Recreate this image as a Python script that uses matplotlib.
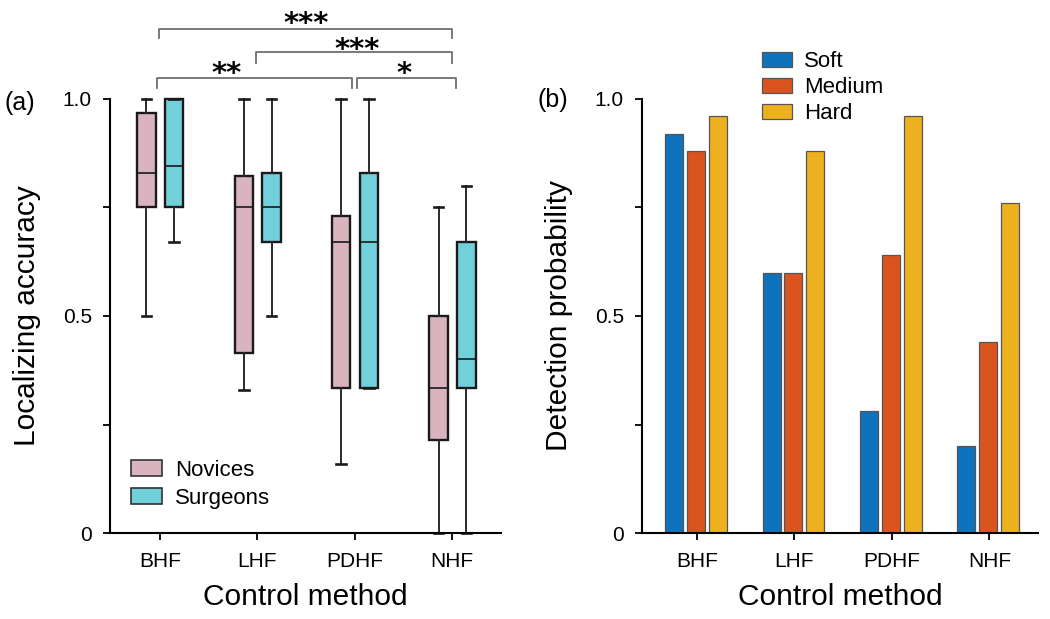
import numpy as np
import matplotlib
matplotlib.use("Agg")
import matplotlib.pyplot as plt
from matplotlib.patches import Patch

plt.rcParams['font.family'] = ['Liberation Sans', 'DejaVu Sans']

methods = ['BHF', 'LHF', 'PDHF', 'NHF']

# (a) localizing accuracy box statistics
nov_low = [0.50, 0.33, 0.16, 0.0]
nov_q1 = [0.75, 0.415, 0.333, 0.214]
nov_med = [0.83, 0.75, 0.67, 0.333]
nov_q3 = [0.967, 0.823, 0.73, 0.50]
nov_high = [1.0, 1.0, 1.0, 0.75]

sur_low = [0.67, 0.50, 0.333, 0.0]
sur_q1 = [0.75, 0.67, 0.333, 0.333]
sur_med = [0.846, 0.75, 0.67, 0.40]
sur_q3 = [1.0, 0.83, 0.83, 0.67]
sur_high = [1.0, 1.0, 1.0, 0.80]

# significance comparisons: (group i, group j, label)
sig_pairs = [(0, 3, '***'), (1, 3, '***'), (0, 2, '**'), (2, 3, '*')]

# (b) detection probability
soft = [0.92, 0.60, 0.28, 0.20]
medium = [0.88, 0.60, 0.64, 0.44]
hard = [0.96, 0.88, 0.96, 0.76]

c_nov = '#d9b4bf'
c_sur = '#72d0da'
c_bars = ['#0f72bd', '#d9541f', '#edb120']

fig = plt.figure(figsize=(10.5, 6.19), dpi=100)
ax1 = fig.add_axes([0.1048, 0.1389, 0.3723, 0.7012])
ax2 = fig.add_axes([0.6114, 0.1389, 0.3772, 0.7012])

x = np.arange(len(methods))


def make_stats(low, q1, med, q3, high):
    return [dict(whislo=a, q1=b, med=c, q3=d, whishi=e, fliers=[])
            for a, b, c, d, e in zip(low, q1, med, q3, high)]


for stats, off, col in [(make_stats(nov_low, nov_q1, nov_med, nov_q3, nov_high), -0.14, c_nov),
                        (make_stats(sur_low, sur_q1, sur_med, sur_q3, sur_high), 0.145, c_sur)]:
    bp = ax1.bxp(stats, positions=x + off, widths=0.19, capwidths=0.1,
                 patch_artist=True, showfliers=False,
                 boxprops=dict(facecolor=col, edgecolor='#1a1a1a', linewidth=1.7),
                 medianprops=dict(color='#1a1a1a', linewidth=1.2),
                 whiskerprops=dict(color='#2a2a2a', linewidth=1.4),
                 capprops=dict(color='#1a1a1a', linewidth=1.9))
    for key in ['boxes', 'medians', 'whiskers', 'caps']:
        for art in bp[key]:
            art.set_clip_on(False)

# significance brackets
levels = {(0, 3): (1.161, 1.140, 1.155), (1, 3): (1.108, 1.082, 1.094),
          (0, 2): (1.049, 1.025, 1.040), (2, 3): (1.049, 1.025, 1.040)}
ends = {(0, 3): (-0.01, 3.0), (1, 3): (0.99, 3.0), (0, 2): (-0.03, 1.966), (2, 3): (2.02, 3.035)}
text_x = {(0, 3): 1.505, (1, 3): 2.02, (0, 2): 0.68, (2, 3): 2.5}
for i, j, lab in sig_pairs:
    top, bot, ty = levels[(i, j)]
    xa, xb = ends[(i, j)]
    ax1.plot([xa, xa, xb, xb], [bot, top, top, bot], color='#6e6e6e', lw=1.3,
             clip_on=False)
    ax1.text(text_x[(i, j)], ty, lab, ha='center', va='baseline', fontsize=21,
             family='DejaVu Sans', fontweight='bold', clip_on=False)

ax1.set_xlim(-0.513, 3.5)
ax1.set_ylim(0, 1)
ax1.set_yticks([0, 0.5, 1.0])
ax1.set_yticklabels(['0', '0.5', '1.0'])
ax1.set_yticks([0.25, 0.75], minor=True)
ax1.set_xticks(x)
ax1.set_xticklabels(methods)
ax1.set_ylabel('Localizing accuracy', fontsize=21.5, labelpad=16)
ax1.set_xlabel('Control method', fontsize=21.5, labelpad=8)
leg1 = ax1.legend(handles=[Patch(facecolor=c_nov, edgecolor='#333333', lw=1.2, label='Novices'),
                           Patch(facecolor=c_sur, edgecolor='#333333', lw=1.2, label='Surgeons')],
                  loc='lower left', bbox_to_anchor=(0.03, 0.035), frameon=False,
                  fontsize=16, handlelength=1.4, handleheight=0.7,
                  handletextpad=0.6, labelspacing=0.32, borderaxespad=0)
ax1.text(-0.27, 0.991, '(a)', transform=ax1.transAxes, fontsize=18,
         ha='left', va='center')

# (b) bars
offsets = [-0.235, -0.01, 0.215]
for vals, off, col, lab in zip([soft, medium, hard], offsets, c_bars,
                               ['Soft', 'Medium', 'Hard']):
    ax2.bar(x + off, vals, width=0.185, color=col, edgecolor='#555555',
            linewidth=0.9, label=lab)

ax2.set_xlim(-0.565, 3.5)
ax2.set_ylim(0, 1)
ax2.set_yticks([0, 0.5, 1.0])
ax2.set_yticklabels(['0', '0.5', '1.0'])
ax2.set_yticks([0.25, 0.75], minor=True)
ax2.set_xticks(x)
ax2.set_xticklabels(methods)
ax2.set_ylabel('Detection probability', fontsize=21.5, labelpad=16)
ax2.set_xlabel('Control method', fontsize=21.5, labelpad=8)
ax2.legend(loc='upper left', bbox_to_anchor=(0.28, 1.13), frameon=False,
           fontsize=16, handlelength=1.35, handleheight=0.7,
           handletextpad=0.55, labelspacing=0.22, borderaxespad=0)
ax2.text(-0.265, 0.998, '(b)', transform=ax2.transAxes, fontsize=18,
         ha='left', va='center')

for ax in (ax1, ax2):
    ax.spines['top'].set_visible(False)
    ax.spines['right'].set_visible(False)
    ax.spines['left'].set_linewidth(1.5)
    ax.spines['bottom'].set_linewidth(1.5)
    ax.tick_params(axis='both', which='both', direction='out', length=5,
                   width=1.3, labelsize=15)
    ax.tick_params(axis='y', pad=8)
    ax.tick_params(axis='x', pad=9)

fig.savefig('out.png', dpi=100)
